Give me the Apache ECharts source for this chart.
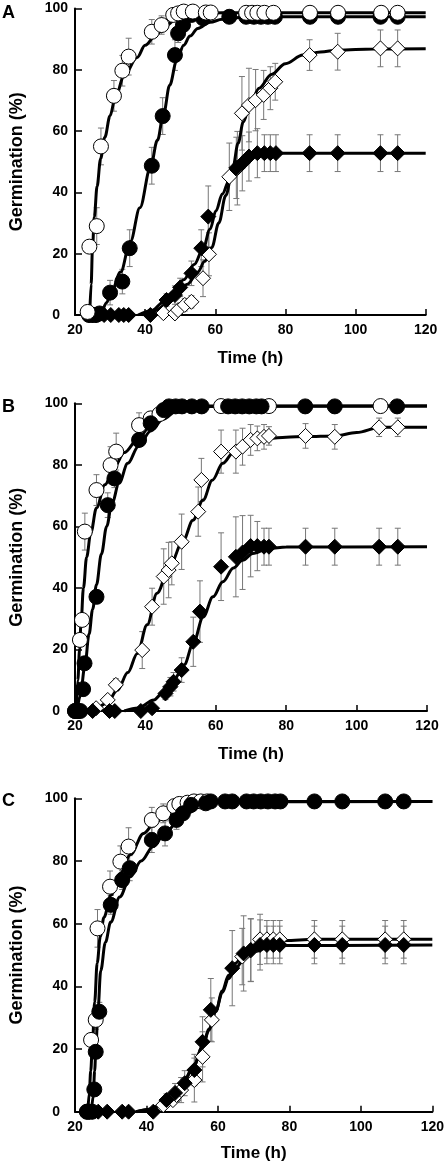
<!DOCTYPE html>
<html><head><meta charset="utf-8">
<script src="https://cdn.jsdelivr.net/npm/echarts@6/dist/echarts.min.js"></script>
<style>html,body{margin:0;padding:0;background:#fff}#c{width:447px;height:1169px}</style>
</head><body><div id="c"></div>
<script>
// ---- tick labels ----
const xTicks = [20, 40, 60, 80, 100, 120];
const yTicks = [0, 20, 40, 60, 80, 100];
const panelLetters = ['A', 'B', 'C'];

// ---- data: [time (h), germination (%), error] ----
// Panel A
const A_openCircle = [[23.6,1,0],[24.1,22.3,0],[26.2,29,6],[27.4,55,6],[31.1,71.5,5],[33.5,79.7,5],[35.3,84.3,6],[41.9,92.4,4],[44.7,94.6,3],[48,97.9,2],[49.4,98.4,2],[51,99,1],[53.6,99,1],[57.3,98.7,1],[58.7,98.7,1],[68.8,98.6,0],[70.5,98.6,0],[72,98.6,0],[74,98.6,0],[76.6,98.6,0],[87,98.6,0],[95,98.6,0],[107.3,98.6,0],[112,98.6,0]];
const A_filledCircle = [[24,0,0],[25,0,0],[26,0,0],[27,0.5,0],[30,7.3,4],[33.5,10.9,4],[35.6,21.8,6],[41.9,48.7,6],[45,64.9,6],[48.5,84.8,5],[49.4,91.9,3],[50.8,94.6,2],[53.2,97.9,1],[56.5,96.8,1],[64,97.3,0],[68.8,97.3,0],[71,97.3,0],[73,97.3,0],[75,97.3,0],[77,97.3,0],[87,97.3,0],[95,97.3,0],[107.1,97.3,0],[112,97.3,0]];
const A_openDiamond = [[45.2,0.6,0],[48.5,0.5,0],[49.4,1.6,0],[51.3,3.3,2],[53.2,4.3,2],[56.5,12,6],[58.2,19.8,7],[64,45.1,11],[66.3,47.9,12],[67.6,65.8,12],[69.6,68.5,12],[71.5,70.1,10],[73.8,71.8,8],[75.7,74,7],[77.1,76.1,6],[86.9,84.8,5],[94.9,85.9,6],[107.1,87,6],[112,87,6]];
const A_filledDiamond = [[24,0,0],[25,0,0],[26,0,0],[28.3,0,0],[30.2,0,0],[32.5,0,0],[33.9,0,0],[35.3,0,0],[41.5,0,0],[46.1,4.9,2],[48.5,6.5,3],[50,9,3],[53.2,13.6,4],[56,21.8,6],[58,32.1,10],[66,48,10],[67.7,49.5,9],[69.6,51.7,8],[72,52.8,8],[74,52.8,6],[75.7,52.8,6],[77.3,52.8,6],[86.9,52.8,6],[94.9,52.8,6],[107.1,52.8,6],[112,52.8,6]];
// fitted curves, panel A
const A_curveOpenCircle = [[24.2,0],[24.6,10],[25,22],[25.5,32],[26.3,42],[27.3,51],[28.5,58],[30,65],[31.5,71],[34,78],[37.7,84],[40,88],[43.3,91.7],[46,94.5],[49,96.8],[52,97.8],[56,98.4],[62,98.6],[120,98.6]];
const A_curveFilledCircle = [[26,0],[27.5,1],[29,4],[30.2,7],[33,14],[35.8,24],[38.5,35],[41.5,48],[43.5,57],[45.3,66],[47,75],[49,83],[51,88],[52.8,91],[55,93.5],[58.5,95.5],[62,96.5],[67,97.1],[72,97.3],[120,97.3]];
const A_curveOpenDiamond = [[39,0],[43,1.5],[46,3.5],[49,6.5],[52,10],[55,14],[57,17.5],[59,22],[61,30],[63,39],[65,48],[66.5,56],[68,63],[70,69],[72.5,74],[76,78.5],[80,82],[85,84.8],[90,85.8],[95,86.4],[105,86.8],[120,86.9]];
const A_curveFilledDiamond = [[38,0],[42,1.5],[45,4],[48,7.5],[51,11.5],[54,16.5],[56.5,21.5],[58.5,28],[60.2,34],[62,39.5],[64,44],[66,47.5],[67.7,49.5],[70,51.2],[72.4,52.2],[77,52.8],[120,52.8]];

// Panel B
const B_openCircle = [[20,0,0],[20.8,0,0],[21.4,23.1,0],[22,29.6,0],[22.8,58.3,6],[26.1,71.8,5],[30.1,79.9,6],[31.7,84.3,6],[38.2,92.9,4],[41.5,95.1,2],[44,96.5,1],[61.5,99.1,0],[75.1,99.1,0],[106.8,99.1,0]];
const B_filledCircle = [[20,0,0],[20.8,0,0],[21.5,0,0],[22.3,7.1,0],[22.7,15.5,0],[26.1,37.1,2],[29.3,66.9,4],[31.2,75.6,3],[38.2,88.1,2],[41.5,93.5,2],[45.2,97.8,1],[46.7,99,0],[48.6,99,0],[50.4,99,0],[53.2,99,0],[56,99,0],[63.5,99,0],[65.5,99,0],[67.5,99,0],[69.5,99,0],[71.5,99,0],[73,99,0],[85.4,99,0],[93.8,99,0],[111.5,99,0]];
const B_openDiamond = [[26,0.9,0],[29.3,3.6,0],[31.6,8.5,2],[39.1,19.8,6],[41.9,33.9,6],[45.2,43.7,9],[46.6,45.8,9],[47.5,48,7],[50.3,55,9],[55,64.8,8],[55.9,75.1,7],[61.5,84.3,7],[65.7,84.3,7],[67.6,85.9,6],[69.9,88.1,5],[71.8,88.6,4],[73.7,89.1,4],[75.1,89.4,3],[85.5,89.4,4],[93.8,89.1,4],[106.4,92.2,3],[111.7,92.2,3]];
const B_filledDiamond = [[20,0,0],[21,0,0],[25,0,0],[29.8,0,0],[31.3,0,0],[38.7,0,0],[41.9,0.9,0],[45.7,5.7,2],[47.1,7.9,3],[48,9.5,3],[50.3,13.3,4],[53.6,22.5,8],[55.5,32.3,10],[61.5,46.9,11],[65.7,50.1,13],[67.6,51.5,12],[69.9,53.6,10],[71.8,53.6,8],[73.7,53.4,6],[75.1,53.4,6],[85.5,53.4,6],[93.8,53.4,6],[106.4,53.4,6],[111.7,53.4,6]];
const B_curveOpenCircle = [[20.3,0],[20.8,10],[21.3,20],[21.7,28.5],[22.4,40],[23.3,50],[24.5,58],[26.1,66],[28.5,73.5],[31.2,79.4],[34,84],[37.7,88],[41,92],[45.2,95.6],[48,97.3],[51.5,98.5],[56,99],[120,99.1]];
const B_curveFilledCircle = [[20.6,0],[21.5,5],[22.8,14.6],[24,25],[25,33],[26.1,41],[27.5,51],[29,60],[30.5,67.5],[32.5,74],[35,80.5],[38,86],[41.5,91],[45,94.8],[49,97.6],[53,98.8],[57,99.1],[120,99.1]];
const B_curveOpenDiamond = [[26,0],[29,2.5],[32.1,6.8],[35,12.5],[37.7,18.7],[40.5,28],[43.3,38.3],[47,47.5],[50.8,55.6],[53.5,62],[56.4,68.6],[59,75],[62,80.5],[65,84],[67.6,86],[71,87.7],[75.1,88.6],[80,89],[85.7,89.2],[93.8,89.4],[100,90.5],[106.8,92.2],[120,92.2]];
const B_curveFilledDiamond = [[34,0],[38,1],[42.4,3.6],[45,6],[48,10],[51,15],[53.6,22],[56.4,30.5],[59.2,37.1],[62,42],[65,46.5],[67.6,49],[70.5,51.2],[75.1,52.8],[80,53.3],[120,53.4]];

// Panel C
const C_openCircle = [[23.5,0,0],[24.5,22.9,0],[25.8,29.3,3],[26.3,58.5,6],[29.8,71.8,5],[32.7,79.8,5],[35,84.6,6],[41.5,93.1,4],[44.7,95.2,3],[47.8,97.5,2],[49.2,98.2,1],[51.5,98.6,1],[53.3,99,0],[55.2,99,0],[57,99,0]];
const C_filledCircle = [[23.3,0,0],[24,0,0],[24.8,0,0],[25.4,7.1,0],[25.8,19.1,0],[26.8,31.9,3],[30,66,3],[33.2,73.9,3],[35.3,77.7,4],[41.5,86.7,4],[45.2,88.8,4],[48.4,93.1,3],[50.2,95.2,2],[52.5,97.9,1],[56.6,98.4,1],[58,99,0],[62,99,0],[64,99,0],[68,99,0],[70,99,0],[72,99,0],[74,99,0],[76,99,0],[77.5,99,0],[87,99,0],[94.8,99,0],[106.8,99,0],[112,99,0]];
const C_openDiamond = [[44.7,2.1,0],[47.4,3.7,0],[48.4,5.3,2],[49.7,6.9,4],[53.4,10.1,7],[55.7,17.5,8],[58.3,29.3,7],[66.8,49.5,9],[69.2,51.5,10],[71.8,55,8],[73.7,55,6],[75.5,55,6],[77.3,55,6],[87,55,6],[94.8,55,6],[106.8,55,6],[112,55,6]];
const C_filledDiamond = [[24,0,0],[25,0,0],[26.5,0,0],[29,0,0],[33.2,0,0],[35,0,0],[41.9,0,0],[45.6,3.7,2],[48,6,3],[50.7,9.1,4],[53.4,13.3,5],[55.7,22.3,8],[58,32.5,10],[64,45.8,12],[67.2,50.5,12],[69.2,51.6,10],[71.8,53.2,8],[73.7,53.2,6],[75.5,53.2,6],[77.3,53.2,6],[87,53.2,6],[94.8,53.2,6],[106.8,53.2,6],[112,53.2,6]];
const C_curveOpenCircle = [[23.6,0],[24,6],[24.4,13],[24.9,22],[25.5,35],[26.2,47.4],[27.1,56],[28.1,62],[30,69],[32.7,76],[35.5,82],[39.2,88.8],[42.5,92.5],[46.5,95.2],[50,97],[54,98.4],[58,98.9],[120,99]];
const C_curveFilledCircle = [[24.6,0],[25.1,5],[25.5,13],[25.9,22],[26.4,32],[27.2,45],[28.5,54],[30,60.5],[32.5,68.5],[35.5,75],[38.5,80],[41.9,84.6],[45,88.5],[48.4,92],[52,95.5],[55.2,97.9],[58,98.8],[62,99],[120,99]];
const C_curveOpenDiamond = [[37.3,0],[41,0.8],[44.7,2.5],[47.5,5],[50.2,9],[53,14],[55.7,20.7],[57.5,26],[59.4,32],[61.2,38.5],[63,43.5],[64.9,47.4],[67.5,50.5],[70.4,52.7],[74,54],[78.7,54.6],[87,55],[120,55]];
const C_curveFilledDiamond = [[37,0],[41,0.8],[44.5,2.5],[47.5,5],[50.2,9],[53,14],[55.7,20.7],[57.5,26.5],[59.4,32],[61.2,38],[63,42.5],[64.9,45.8],[67.5,49],[70.4,51.1],[74,52.4],[77.5,53],[120,53.2]];

// ---- layout ----
const FONT = "'Liberation Sans', Arial, sans-serif";
const grids = [
  {left: 70.5, top: 8.5, width: 355.2, height: 306.5, nameGap: 35},
  {left: 70, top: 403.3, width: 357, height: 307.7, nameGap: 35},
  {left: 70.5, top: 798.3, width: 362.5, height: 313.4, nameGap: 33}
];
const letterTops = [4, 398, 792];

const panels = [
  [ {pts: A_openDiamond, curve: A_curveOpenDiamond, shape: 'diamond', filled: false},
    {pts: A_filledDiamond, curve: A_curveFilledDiamond, shape: 'diamond', filled: true},
    {pts: A_filledCircle, curve: A_curveFilledCircle, shape: 'circle', filled: true},
    {pts: A_openCircle, curve: A_curveOpenCircle, shape: 'circle', filled: false} ],
  [ {pts: B_openDiamond, curve: B_curveOpenDiamond, shape: 'diamond', filled: false},
    {pts: B_filledDiamond, curve: B_curveFilledDiamond, shape: 'diamond', filled: true},
    {pts: B_openCircle, curve: B_curveOpenCircle, shape: 'circle', filled: false},
    {pts: B_filledCircle, curve: B_curveFilledCircle, shape: 'circle', filled: true} ],
  [ {pts: C_openDiamond, curve: C_curveOpenDiamond, shape: 'diamond', filled: false},
    {pts: C_filledDiamond, curve: C_curveFilledDiamond, shape: 'diamond', filled: true},
    {pts: C_openCircle, curve: C_curveOpenCircle, shape: 'circle', filled: false},
    {pts: C_filledCircle, curve: C_curveFilledCircle, shape: 'circle', filled: true} ]
];

function errRender(params, api) {
  const x = api.value(0), y = api.value(1), e = api.value(2);
  if (!e) return null;
  const t = api.coord([x, y + e]), b = api.coord([x, y - e]);
  const st = {stroke: '#777', lineWidth: 1};
  const w = 3;
  return {type: 'group', children: [
    {type: 'line', shape: {x1: t[0], y1: t[1], x2: b[0], y2: b[1]}, style: st},
    {type: 'line', shape: {x1: t[0]-w, y1: t[1], x2: t[0]+w, y2: t[1]}, style: st},
    {type: 'line', shape: {x1: b[0]-w, y1: b[1], x2: b[0]+w, y2: b[1]}, style: st}
  ]};
}

const series = [];
panels.forEach((sets, gi) => {
  sets.forEach((s) => {
    series.push({type: 'custom', xAxisIndex: gi, yAxisIndex: gi, renderItem: errRender,
      data: s.pts, encode: {x: 0, y: 1}, z: 1, clip: false, silent: true});
  });
  sets.forEach((s) => {
    series.push({type: 'line', xAxisIndex: gi, yAxisIndex: gi, data: s.curve, smooth: 0.35,
      smoothMonotone: 'x', showSymbol: false, symbol: 'none', z: 2,
      lineStyle: {color: '#000', width: 3}, silent: true});
  });
  sets.forEach((s, k) => {
    series.push({type: 'scatter', xAxisIndex: gi, yAxisIndex: gi,
      data: s.pts.map(p => [p[0], p[1]]), symbol: s.shape, symbolSize: 15,
      z: 3 + k, clip: false, silent: true,
      itemStyle: {color: s.filled ? '#000' : '#fff', borderColor: '#000', borderWidth: 1, opacity: 1}});
  });
});

const axisText = {color: '#000', fontWeight: 'bold', fontSize: 14, fontFamily: FONT};
const option = {
  animation: false,
  backgroundColor: '#fff',
  grid: grids.map(g => ({left: g.left, top: g.top, width: g.width, height: g.height, containLabel: false})),
  xAxis: grids.map((g, i) => ({
    type: 'value', gridIndex: i, min: xTicks[0], max: xTicks[xTicks.length-1], interval: xTicks[1]-xTicks[0],
    axisLine: {onZero: false, lineStyle: {color: '#000', width: 2}},
    axisTick: {inside: true, length: 6, lineStyle: {color: '#000', width: 1.5}},
    axisLabel: Object.assign({margin: 8}, axisText),
    splitLine: {show: false},
    name: 'Time (h)', nameLocation: 'middle', nameGap: g.nameGap,
    nameTextStyle: {color: '#000', fontWeight: 'bold', fontSize: 17, fontFamily: FONT}
  })),
  yAxis: grids.map((g, i) => ({
    type: 'value', gridIndex: i, min: yTicks[0], max: yTicks[yTicks.length-1], interval: yTicks[1]-yTicks[0],
    axisLine: {onZero: false, lineStyle: {color: '#000', width: 2}},
    axisTick: {inside: true, length: 7, lineStyle: {color: '#000', width: 1.5}},
    axisLabel: Object.assign({margin: 7,
      formatter: v => (v === 0 ? '{z|0}' : String(v)),
      rich: {z: {padding: [0, 8, 0, 0], color: '#000', fontWeight: 'bold', fontSize: 14, fontFamily: FONT}}
    }, axisText),
    splitLine: {show: false},
    name: 'Germination (%)', nameLocation: 'middle', nameGap: 49,
    nameTextStyle: {color: '#000', fontWeight: 'bold', fontSize: 18, fontFamily: FONT}
  })),
  graphic: panelLetters.map((L, i) => ({
    type: 'text', left: 2, top: letterTops[i],
    style: {text: L, font: 'bold 18px ' + FONT, fill: '#000'}
  })),
  series: series
};
const chart = echarts.init(document.getElementById('c'), null, {renderer: 'canvas'});
chart.setOption(option);
</script>
</body></html>
